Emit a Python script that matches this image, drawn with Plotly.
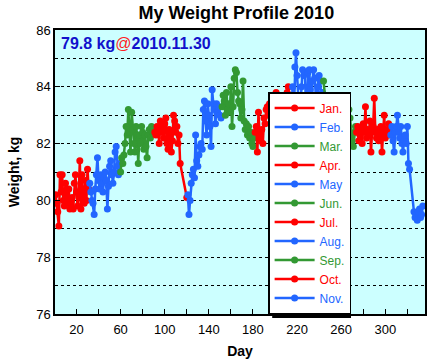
import plotly.graph_objects as go

month_names = ["Jan.", "Feb.", "Mar.", "Apr.", "May", "Jun.", "Jul.", "Aug.", "Sep.", "Oct.", "Nov."]
month_lengths = [31, 28, 31, 30, 31, 30, 31, 31, 30, 31, 30]
month_colors = ["#ff0000", "#2266ff", "#339933"] * 4

jan = [80.2, 79.9, 79.6, 79.1, 80.9, 80.3, 80.9, 80.0, 79.8, 80.6, 80.2, 79.9, 80.4, 79.7, 79.8, 80.1,
       79.7, 80.6, 80.9, 80.3, 79.8, 80.2, 81.4, 79.7, 80.9, 80.1, 79.9, 80.7, 80.0, 81.1, 80.4]
feb = [80.6, 80.3, 80.0, 79.9, 79.5, 80.4, 80.9, 81.5, 80.7, 80.4, 80.9, 80.6, 80.3, 80.8, 81.0, 80.7,
       79.7, 80.5, 81.2, 81.4, 80.9, 80.6, 81.0, 81.7, 81.9, 81.2, 80.9, 81.3]
mar = [81.0, 81.5, 81.3, 81.6, 82.0, 82.6, 82.3, 83.2, 82.4, 81.7, 83.1, 82.5, 82.0, 81.7, 82.6, 82.3,
       81.3, 82.3, 82.0, 82.6, 82.4, 81.8, 82.3, 81.9, 81.5, 82.3, 82.5, 82.2, 82.6, 82.4, 82.5]
apr = [82.4, 82.3, 82.6, 82.5, 82.0, 82.8, 82.4, 82.6, 82.2, 82.7, 82.9, 82.0, 81.8, 82.5, 82.3, 81.7,
       82.1, 83.0, 82.8, 82.4, 82.6, 82.0, 82.3, 81.3, None, None, None, None, None, 80.1]
may = [80.2, 79.5, 80.0, 80.6, 80.9, 81.1, 80.8, 82.3, 81.4, 81.2, 81.6, 81.9, 82.0, 81.8, 83.2, 83.5,
       82.8, 82.3, 83.4, 83.0, 82.6, 81.9, 83.9, 83.4, 83.2, 82.7, 83.4, 83.1, 83.3, 83.0, 82.9]
jun = [83.3, 83.7, 83.5, 83.0, 83.8, 83.2, 83.4, 83.1, 84.0, 82.6, 83.3, 84.3, 84.6, 84.5, 83.8, 83.5,
       83.4, 82.9, 83.2, 84.2, 82.8, 82.5, 82.7, 82.3, 82.6, 82.2, 82.4, 82.0, 81.9, 82.2]
jul = [82.4, 82.6, 81.7, 83.1, 82.3, 82.1, 82.5, 82.0, 82.9, 82.7, 83.2, 83.3, 83.0, 83.4, 83.1, 83.2,
       82.6, 82.9, 83.6, 83.8, 83.0, 82.7, 83.1, 83.3, 82.8, 83.2, 82.4, 83.0, 83.5, 83.8, 84.0]
aug = [83.1, 83.5, 83.4, 84.0, 83.2, 84.7, 85.2, 84.4, 83.6, 83.1, 83.3, 84.0, 84.6, 84.4, 84.5, 83.5,
       83.1, 84.5, 84.6, 83.9, 83.2, 84.2, 84.6, 84.3, 83.7, 83.1, 84.0, 84.4, 84.2, 83.5, 83.8]
sep = [84.2, 83.7, 83.3, 83.0, 83.1, 82.6, 82.8, 82.3, 82.5, 82.0, 82.2, 82.9, 82.4, 83.3, 82.1, 82.6,
       82.3, 82.8, 82.0, 82.5, 82.2, 82.7, 82.4, 83.2, 82.9, 82.3, 82.1, 81.9, 82.4, 82.6]
oct_ = [82.4, 82.6, 82.1, 82.3, 82.5, 82.0, 82.7, 82.4, 83.3, 82.2, 82.5, 82.3, 82.8, 81.7, 82.4, 82.6,
        83.6, 82.4, 82.2, 82.5, 82.1, 82.3, 82.6, 81.7, 82.4, 83.0, 82.2, 82.4, 82.5, 82.7, 82.3]
nov = [82.3, 82.6, 82.1, 81.7, 82.4, 82.6, 83.0, 82.4, 82.2, 82.6, 82.0, 81.7, 82.1, 82.3, 82.0, 82.6,
       81.3, 81.1, None, None, None, 79.6, 79.4, 79.5, 79.3, 79.6, 79.7, 79.4, 79.5, 79.8]

monthly_values = [jan, feb, mar, apr, may, jun, jul, aug, sep, oct_, nov]

x_tickvals = [20, 60, 100, 140, 180, 220, 260, 300]
y_tickvals = [76, 78, 80, 82, 84, 86]

FONT = "Liberation Sans, Arial, Helvetica, sans-serif"

fig = go.Figure()
start = 1
for name, n, color, vals in zip(month_names, month_lengths, month_colors, monthly_values):
    days = list(range(start, start + n))
    start += n
    fig.add_trace(go.Scatter(
        x=days, y=vals, mode="lines+markers", connectgaps=True,
        name=f"<span style='color:{color}'>{name}</span>",
        line=dict(color=color, width=2.5),
        marker=dict(color=color, size=7),
    ))

fig.update_layout(
    width=429, height=363,
    margin=dict(l=55, r=4, t=30, b=49, autoexpand=False),
    paper_bgcolor="white",
    plot_bgcolor="#ccffff",
    font=dict(family=FONT, size=13, color="black"),
    title=dict(text="<b>My Weight Profile 2010</b>", xref="paper", x=0.49, xanchor="center",
               yref="container", y=1 - 12.5 / 363, yanchor="middle",
               font=dict(size=18, color="black", family=FONT)),
    showlegend=True,
    legend=dict(x=0.576, y=0, xanchor="left", yanchor="bottom",
                bgcolor="white", bordercolor="black", borderwidth=1.5,
                font=dict(size=12, family=FONT), itemwidth=40,
                tracegroupgap=0),
    xaxis=dict(range=[0.5, 336], tickvals=x_tickvals, ticks="inside", ticklen=5, tickcolor="black",
               showline=True, linecolor="black", linewidth=1.5, mirror=True, showgrid=False, zeroline=False,
               automargin=False, ticklabelstandoff=3,
               tickfont=dict(size=13, family=FONT),
               minor=dict(dtick=20, tick0=0, ticks="inside", ticklen=5, tickcolor="black", showgrid=False),
               title=dict(text="<b>Day</b>", font=dict(size=14, family=FONT), standoff=10)),
    yaxis=dict(range=[76, 86], tickvals=y_tickvals, ticks="inside", ticklen=5, tickcolor="black",
               showline=True, linecolor="black", linewidth=1.5, mirror=True, showgrid=True,
               gridcolor="black", griddash="dot", gridwidth=1, zeroline=False,
               automargin=False,
               tickfont=dict(size=13, family=FONT),
               minor=dict(dtick=1, tick0=76, showgrid=True, gridcolor="black", griddash="dot", gridwidth=1, ticks=""),
               title=dict(text="<b>Weight, kg</b>", font=dict(size=14, family=FONT), standoff=13)),
)
fig.update_xaxes(tickprefix="<b>", ticksuffix="</b>")
fig.update_yaxes(tickprefix="<b>", ticksuffix="</b>")

fig.add_annotation(
    xref="paper", yref="paper", x=0.011, y=0.99, xanchor="left", yanchor="top", showarrow=False,
    text="<b>79.8 kg</b><span style='color:#ff2222'>@</span><b>2010.11.30</b>",
    font=dict(size=16, color="#1111cc", family=FONT),
)

# legend drop shadow
fig.add_shape(type="rect", xref="paper", yref="paper", x0=0.587, x1=0.800, y0=-0.014, y1=0.768,
              fillcolor="black", line=dict(width=0), layer="above")

fig.write_html("out.html", config={"displayModeBar": False},
               post_script="document.body.style.margin='0px';document.body.style.padding='0px';")
